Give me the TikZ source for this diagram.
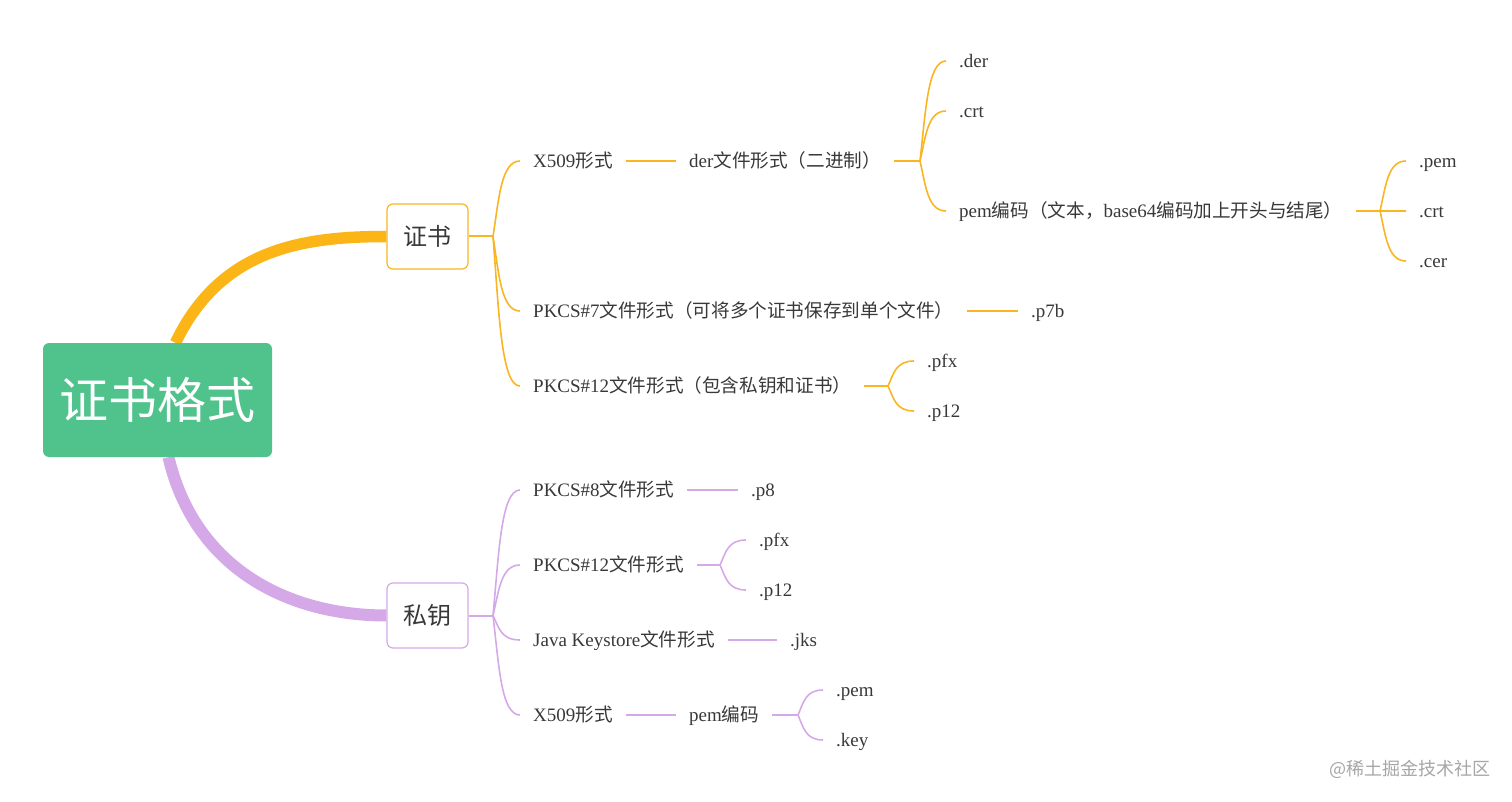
\documentclass[tikz,border=0pt]{standalone}
\usepackage{fontspec}
\setmainfont{Liberation Serif}
\newfontfamily\cjk{Noto Sans CJK SC}[Scale=0.98]
\usetikzlibrary{calc,backgrounds}
\definecolor{org}{HTML}{F9B522}
\definecolor{orgthick}{HTML}{FBB516}
\definecolor{pur}{HTML}{D5A9E8}
\definecolor{grn}{HTML}{50C38D}
\definecolor{txt}{HTML}{383838}
\definecolor{wmk}{HTML}{A6A6A6}
\newcommand\fanbr[3]{\draw[#1] let \p1=(#2), \p2=(#3) in (#2) .. controls ({\x1+0.22*(\x2-\x1)},{0.5*\y1+0.5*\y2}) and ({\x1+0.3*(\x2-\x1)},\y2) .. (#3);}
\tikzset{
  leaf/.style={anchor=west, inner xsep=13pt, inner ysep=0pt, text height=13pt, text depth=0pt,
    font=\fontsize{19}{23}\selectfont, text=txt},
  rootbox/.style={fill=grn, rounded corners=6pt, minimum width=229pt, minimum height=114pt,
    inner sep=0pt, text=white, font=\cjk\fontsize{50}{58}\selectfont},
  mainbox/.style={fill=white, rounded corners=6pt, minimum width=81pt, minimum height=65pt,
    inner sep=0pt, line width=1.2pt, text=txt, font=\cjk\fontsize{24.5}{28}\selectfont},
  oline/.style={draw=org, line width=1.6pt},
  pline/.style={draw=pur, line width=1.6pt},
}
\begin{document}
\begin{tikzpicture}[x=1pt,y=-1pt]
\useasboundingbox (0,0) rectangle (1512,802);
% main nodes
\node[rootbox] (root) at (157.5,400) {证书格式};
\node[mainbox, draw=org] (cert) at (427.5,236.5) {证书};
\node[mainbox, draw=pur] (key) at (427.5,615.5) {私钥};
\begin{pgfonlayer}{background}
\draw[orgthick, line width=11.5pt] ($(root.north)+(18,0)$) .. controls (220,250) and (300,236.5) .. (cert.west);
\draw[pur, line width=12pt] ($(root.south)+(11,0)$) .. controls (195,570) and (290,615.5) .. (key.west);
\end{pgfonlayer}

% ---------- certificate branch ----------
\coordinate (j1) at (493,236.5);
\node[leaf] (x509) at (520,161) {X509{\cjk 形式}};
\node[leaf] (der) at (676,161) {der{\cjk 文件形式（二进制）}};
\node[leaf] (p7) at (520,311) {PKCS\#7{\cjk 文件形式（可将多个证书保存到单个文件）}};
\node[leaf] (p12) at (520,386) {PKCS\#12{\cjk 文件形式（包含私钥和证书）}};
\draw[oline, line width=2pt] (cert.east) -- (j1);
\fanbr{oline}{j1}{x509.west}
\fanbr{oline}{j1}{p7.west}
\fanbr{oline}{j1}{p12.west}
\draw[oline] (x509.east) -- (der.west);

\coordinate (j2) at (920,161);
\node[leaf] (dder) at (946,61) {.der};
\node[leaf] (dcrt) at (946,111) {.crt};
\node[leaf] (pem) at (946,211) {pem{\cjk 编码（文本，}base64{\cjk 编码加上开头与结尾）}};
\draw[oline] (der.east) -- (j2);
\fanbr{oline}{j2}{dder.west}
\fanbr{oline}{j2}{dcrt.west}
\fanbr{oline}{j2}{pem.west}

\coordinate (j3) at (1380,211);
\node[leaf] (epem) at (1406,161) {.pem};
\node[leaf] (ecrt) at (1406,211) {.crt};
\node[leaf] (ecer) at (1406,261) {.cer};
\draw[oline] (pem.east) -- (j3);
\fanbr{oline}{j3}{epem.west}
\draw[oline] (j3) -- (ecrt.west);
\fanbr{oline}{j3}{ecer.west}

\node[leaf] (p7b) at (1018,311) {.p7b};
\draw[oline] (p7.east) -- (p7b.west);

\coordinate (j4) at (888,386);
\node[leaf] (cpfx) at (914,361) {.pfx};
\node[leaf] (cp12) at (914,411) {.p12};
\draw[oline] (p12.east) -- (j4);
\fanbr{oline}{j4}{cpfx.west}
\fanbr{oline}{j4}{cp12.west}

% ---------- private key branch ----------
\coordinate (k1) at (493,615.5);
\node[leaf] (k8) at (520,490) {PKCS\#8{\cjk 文件形式}};
\node[leaf] (k12) at (520,565) {PKCS\#12{\cjk 文件形式}};
\node[leaf] (kjava) at (520,640) {Java Keystore{\cjk 文件形式}};
\node[leaf] (kx509) at (520,715) {X509{\cjk 形式}};
\draw[pline, line width=2pt] (key.east) -- (k1);
\fanbr{pline}{k1}{k8.west}
\fanbr{pline}{k1}{k12.west}
\fanbr{pline}{k1}{kjava.west}
\fanbr{pline}{k1}{kx509.west}

\node[leaf] (kp8) at (738,490) {.p8};
\draw[pline] (k8.east) -- (kp8.west);

\coordinate (k2) at (720,565);
\node[leaf] (kpfx) at (746,540) {.pfx};
\node[leaf] (kp12) at (746,590) {.p12};
\draw[pline] (k12.east) -- (k2);
\fanbr{pline}{k2}{kpfx.west}
\fanbr{pline}{k2}{kp12.west}

\node[leaf] (kjks) at (777,640) {.jks};
\draw[pline] (kjava.east) -- (kjks.west);

\node[leaf] (kpem) at (676,715) {pem{\cjk 编码}};
\draw[pline] (kx509.east) -- (kpem.west);
\coordinate (k3) at (798,715);
\node[leaf] (kpemx) at (823,690) {.pem};
\node[leaf] (kkey) at (823,740) {.key};
\draw[pline] (kpem.east) -- (k3);
\fanbr{pline}{k3}{kpemx.west}
\fanbr{pline}{k3}{kkey.west}

% watermark
\node[anchor=west, inner sep=0pt, text=wmk, font=\cjk\fontsize{18.4}{22}\selectfont] (wm) at (1329,769) {@稀土掘金技术社区};
\end{tikzpicture}
\end{document}
